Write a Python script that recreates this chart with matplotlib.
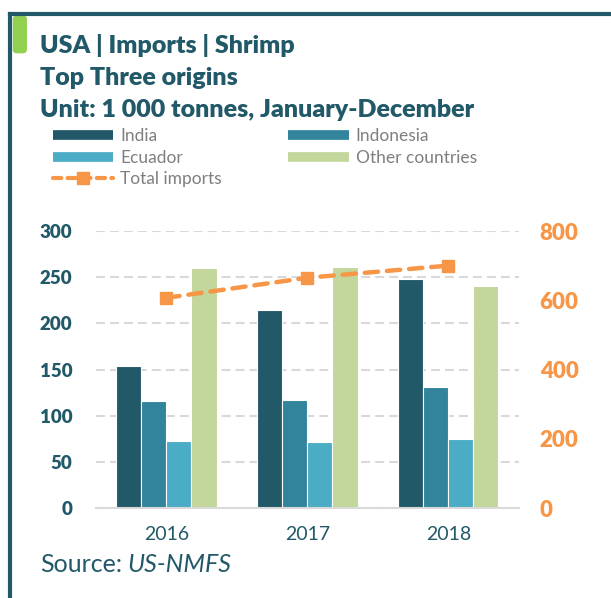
import numpy as np
import matplotlib.pyplot as plt
from matplotlib.lines import Line2D
from matplotlib.patches import FancyBboxPatch

plt.rcParams['font.family'] = ['Lato', 'DejaVu Sans']

years = ['2016', '2017', '2018']
india = [154, 214, 248]
indonesia = [116, 117, 131]
ecuador = [73, 71, 75]
others = [260, 261, 240]
total = [607, 665, 700]

series_names = ['India', 'Indonesia', 'Ecuador', 'Other countries']
colors = ['#215968', '#31849B', '#4BACC6', '#C3D69B']
teal = '#215968'
orange = '#F79646'

fig = plt.figure(figsize=(6.11, 5.98), dpi=100)

# frame and accent
fig.add_artist(Line2D([0.0164, 0.0164], [0, 0.977], color=teal, lw=3, transform=fig.transFigure))
fig.add_artist(Line2D([0.0164, 1.0], [0.977, 0.977], color=teal, lw=3, transform=fig.transFigure))
fig.add_artist(FancyBboxPatch((0.022, 0.912), 0.021, 0.061, boxstyle='round,pad=0,rounding_size=0.005',
                              color='#92D050', transform=fig.transFigure))

# titles
for yy, t in zip([0.911, 0.858, 0.805],
                 ['USA | Imports | Shrimp', 'Top Three origins', 'Unit: 1 000 tonnes, January-December']):
    fig.text(0.066, yy, t, fontsize=18, fontweight='heavy', color=teal)

ax = fig.add_axes([0.157, 0.1505, 0.692, 0.4632])
ax2 = ax.twinx()

x = np.arange(len(years))
w = 0.178
data = [india, indonesia, ecuador, others]
for i, (vals, c) in enumerate(zip(data, colors)):
    ax.bar(x + (i - 1.5) * w, vals, w, color=c, edgecolor='white', linewidth=0.8, zorder=2)

ax2.plot(x, total, color=orange, lw=3.2, linestyle=(0, (3, 2)), dash_capstyle='round',
         marker='s', markersize=8.5, zorder=3)

ax.set_xlim(-0.5, 2.5)
ax.set_ylim(0, 300)
ax2.set_ylim(0, 800)
lt = list(range(0, 301, 50))
rt = list(range(0, 801, 200))
ax.set_yticks(lt, [str(v) for v in lt])
ax2.set_yticks(rt, [str(v) for v in rt])
ax.set_xticks(x, years)

ax.grid(axis='y', color='#D9D9D9', lw=1.5, linestyle=(0, (4.3, 2.4)), zorder=0)
ax.set_axisbelow(True)
for a in (ax, ax2):
    for s in a.spines.values():
        s.set_visible(False)
ax.spines['bottom'].set_visible(True)
ax.spines['bottom'].set_color('#D9D9D9')
ax.spines['bottom'].set_linewidth(1.5)

ax.tick_params(axis='y', length=0, pad=17, labelsize=13.5, labelcolor=teal)
ax.tick_params(axis='x', length=0, pad=13, labelsize=14, labelcolor=teal)
ax2.tick_params(axis='y', length=0, pad=15, labelsize=16, labelcolor=orange)
for lab in ax.get_yticklabels() + ax2.get_yticklabels():
    lab.set_fontweight('heavy')

# legend
h = [Line2D([], [], color=colors[0], lw=7, solid_capstyle='butt'),
     Line2D([], [], color=colors[2], lw=7, solid_capstyle='butt'),
     Line2D([], [], color=orange, lw=3, linestyle=(0, (2, 1.5)), dash_capstyle='round',
            marker='s', markersize=8.5),
     Line2D([], [], color=colors[1], lw=7, solid_capstyle='butt'),
     Line2D([], [], color=colors[3], lw=7, solid_capstyle='butt')]
labels = ['India', 'Ecuador', 'Total imports', 'Indonesia', 'Other countries']
fig.legend(h, labels, ncol=2, loc='upper left', bbox_to_anchor=(0.072, 0.8),
           frameon=False, fontsize=12.5, labelcolor='#7F7F7F', handlelength=3.5,
           handletextpad=0.4, columnspacing=3.8, labelspacing=0.32, borderpad=0)

fig.text(0.066, 0.043, 'Source:', fontsize=18, color=teal)
fig.text(0.208, 0.043, 'US-NMFS', fontsize=18, color=teal, style='italic')

plt.savefig('out.png', dpi=100)
